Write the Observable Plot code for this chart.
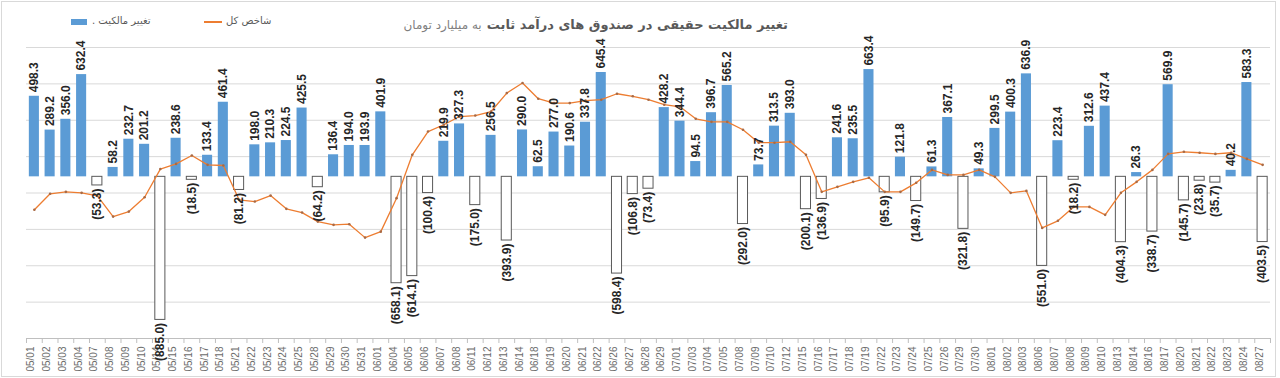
<!DOCTYPE html>
<html>
<head>
<meta charset="utf-8">
<script src="https://cdn.jsdelivr.net/npm/d3@7"></script>
<script src="https://cdn.jsdelivr.net/npm/@observablehq/plot@0.6"></script>
<style>
  body { margin: 0; background: #fff; }
  #wrap { position: relative; width: 1280px; height: 378px; overflow: hidden; background: #fff; }
  #frame { position: absolute; left: 1px; top: 1px; width: 1273px; height: 374px; border: 1px solid #d9d9d9; }
  #chart { position: absolute; left: 0; top: 0; }
  #title { position: absolute; right: 492px; top: 14px; direction: rtl; white-space: nowrap;
           font-family: "DejaVu Sans", sans-serif; color: #595959; }
  #title b { font-size: 13px; }
  #title span { font-size: 12px; color: #7f7f7f; }
  .leg { position: absolute; font-family: "DejaVu Sans", sans-serif; font-size: 10px; color: #595959; direction: rtl; white-space: nowrap; }
</style>
</head>
<body>
<div id="wrap">
  <div id="frame"></div>
  <div id="chart"></div>
  <div id="title"><b>تغییر مالکیت حقیقی در صندوق های درآمد ثابت</b> <span>به میلیارد تومان</span></div>
  <div style="position:absolute;left:71px;top:19px;width:16px;height:6px;background:#5B9BD5"></div>
  <div class="leg" style="left:92px;top:15px">تغییر مالکیت .</div>
  <div style="position:absolute;left:204px;top:21px;width:18px;height:2px;background:#ED7D31"></div>
  <div class="leg" style="left:226px;top:15px">شاخص کل</div>
</div>
<script>
const dates = ["05/01","05/02","05/03","05/04","05/07","05/08","05/09","05/10","05/14","05/15","05/16","05/17","05/18","05/21","05/22","05/23","05/24","05/25","05/28",
  "05/29","05/30","05/31","06/01","06/04","06/05","06/06","06/07","06/08","06/11","06/12","06/13","06/14","06/18","06/19","06/20","06/21","06/22","06/26","06/27","06/28",
  "06/29","07/01","07/03","07/04","07/05","07/08","07/09","07/10","07/12","07/15","07/16","07/17","07/18","07/19","07/22","07/23","07/24","07/25","07/26","07/29",
  "07/30","08/01","08/02","08/03","08/06","08/07","08/08","08/09","08/10","08/13","08/14","08/16","08/17","08/20","08/21","08/22","08/23","08/24","08/27"];

// تغییر مالکیت حقیقی (billion toman)
const ownershipChange = [498.3,289.2,356.0,632.4,-53.3,58.2,232.7,201.2,-885.0,238.6,-18.5,133.4,461.4,-81.2,198.0,210.3,224.5,425.5,-64.2,
  136.4,194.0,193.9,401.9,-658.1,-614.1,-100.4,219.9,327.3,-175.0,256.5,-393.9,290.0,62.5,277.0,190.6,337.8,645.4,-598.4,-106.8,-73.4,
  428.2,344.4,94.5,396.7,565.2,-292.0,73.7,313.5,393.0,-200.1,-136.9,241.6,235.5,663.4,-95.9,121.8,-149.7,61.3,367.1,-321.8,
  49.3,299.5,400.3,636.9,-551.0,223.4,-18.2,312.6,437.4,-404.3,26.3,-338.7,569.9,-145.7,-23.8,-35.7,40.2,583.3,-403.5];

// شاخص کل (expressed on the chart's value axis)
const totalIndex = [-204,-105,-93,-99,-118,-246,-215,-126,48,80,132,74,70,-142,-153,-116,-198,-221,-277,
  -297,-293,-376,-339,-132,136,280,322,373,379,404,518,580,483,456,456,472,477,514,498,477,
  446,433,359,340,340,291,211,211,217,136,-93,-62,-31,-6,-93,-93,-37,43,12,12,
  43,0,-99,-87,-316,-272,-186,-186,-235,-99,-31,43,142,155,149,142,149,111,74];

const gridTicks = [-775,-550,-325,-100,125,350,575,800];
const axisBottom = [-1000];

const data = dates.map((d, i) => ({date: d, value: ownershipChange[i], idx: totalIndex[i]}));
const pos = data.filter(d => d.value >= 0);
const neg = data.filter(d => d.value < 0);

const chart = Plot.plot({
  width: 1280,
  height: 378,
  marginTop: 47,
  marginBottom: 40,
  marginLeft: 26,
  marginRight: 10,
  x: {type: "band", domain: dates, paddingInner: 0.36, paddingOuter: 0.18, axis: null},
  y: {domain: [-1000, 800], axis: null},
  style: {background: "transparent", fontFamily: "'Liberation Sans', Arial, sans-serif", overflow: "visible"},
  marks: [
    Plot.ruleY(gridTicks, {stroke: "#d9d9d9", strokeWidth: 1}),
    Plot.ruleY(axisBottom, {stroke: "#bfbfbf", strokeWidth: 1}),
    Plot.ruleX(dates, {x: d => d, dx: -7.87, insetTop: 291, insetBottom: -5, stroke: "#bfbfbf"}),
    Plot.ruleX(dates.slice(-1), {x: d => d, dx: 7.87, insetTop: 291, insetBottom: -5, stroke: "#bfbfbf"}),
    Plot.text(dates, {x: d => d, frameAnchor: "bottom", dy: 8, rotate: -90, textAnchor: "end", fontSize: 10, fill: "#6b6b6b"}),
    Plot.barY(pos, {x: "date", y: "value", fill: "#5B9BD5"}),
    Plot.barY(neg, {x: "date", y: "value", fill: "white", stroke: "#595959", strokeWidth: 1}),
    Plot.line(data, {x: "date", y: "idx", stroke: "#ED7D31", strokeWidth: 1.3}),
    Plot.dot(data, {x: "date", y: "idx", r: 1.3, fill: "#a86a45", stroke: "none"}),
    Plot.text(pos, {x: "date", y: "value", text: d => d.value.toFixed(1), rotate: -90, textAnchor: "start", dy: -4, fontSize: 12, fontWeight: "bold", fill: "#262626"}),
    Plot.text(neg, {x: "date", y: "value", text: d => `(${(-d.value).toFixed(1)})`, rotate: -90, textAnchor: "end", dy: 3, fontSize: 12, fontWeight: "bold", fill: "#262626"})
  ]
});
document.getElementById("chart").appendChild(chart);
</script>
</body>
</html>
